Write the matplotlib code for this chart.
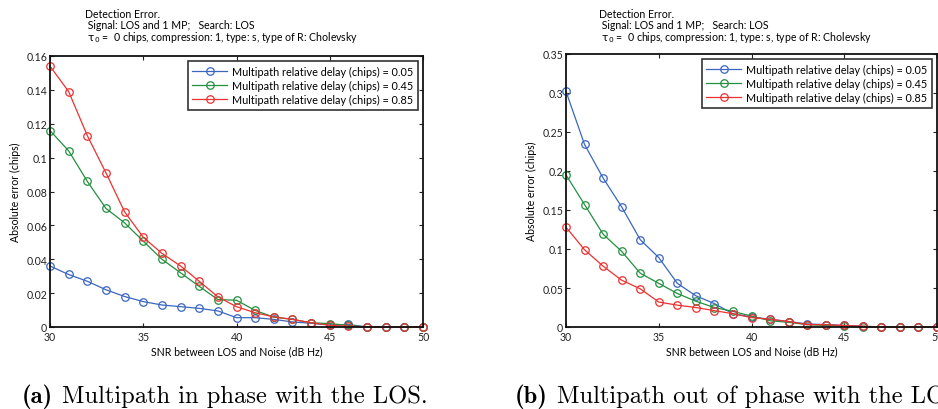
import matplotlib
matplotlib.use("Agg")
import matplotlib.pyplot as plt
from matplotlib.ticker import FixedLocator, FuncFormatter

snr = list(range(30, 51))

# Panel (a): multipath in phase with the LOS
a_005 = [0.036, 0.031, 0.027, 0.022, 0.018, 0.015, 0.013, 0.012, 0.011, 0.0095,
         0.0055, 0.0055, 0.0045, 0.003, 0.0022, 0.0012, 0.0015, 0, 0, 0, 0]
a_045 = [0.116, 0.104, 0.086, 0.070, 0.0615, 0.0507, 0.040, 0.032, 0.024, 0.0162,
         0.0158, 0.0098, 0.0058, 0.0045, 0.0025, 0.002, 0.001, 0, 0, 0, 0]
a_085 = [0.154, 0.139, 0.113, 0.091, 0.068, 0.053, 0.0435, 0.036, 0.027, 0.0178,
         0.012, 0.0084, 0.006, 0.0045, 0.0025, 0.001, 0.0005, 0, 0, 0, 0]

# Panel (b): multipath out of phase with the LOS
b_005 = [0.302, 0.234, 0.191, 0.154, 0.112, 0.089, 0.056, 0.040, 0.030, 0.017,
         0.013, 0.0098, 0.007, 0.004, 0.003, 0.002, 0.001, 0, 0, 0, 0]
b_045 = [0.195, 0.157, 0.119, 0.097, 0.069, 0.056, 0.043, 0.033, 0.025, 0.020,
         0.014, 0.008, 0.006, 0.003, 0.002, 0.001, 0, 0, 0, 0, 0]
b_085 = [0.128, 0.099, 0.078, 0.060, 0.049, 0.032, 0.028, 0.025, 0.021, 0.017,
         0.012, 0.010, 0.007, 0.003, 0.003, 0.002, 0.001, 0, 0, 0, 0]

delays = ["0.05", "0.45", "0.85"]
colors = ["#3a66c0", "#229040", "#ee3030"]

xticks = [30, 35, 40, 45, 50]
yticks_a = [0, 0.02, 0.04, 0.06, 0.08, 0.1, 0.12, 0.14, 0.16]
yticks_b = [0, 0.05, 0.1, 0.15, 0.2, 0.25, 0.3, 0.35]

title_lines = ["Detection Error.",
               " Signal: LOS and 1 MP;   Search: LOS",
               r" $\mathrm{\tau}_0$ =  0 chips, compression: 1, type: s, type of R: Cholevsky"]
xlabel = "SNR between LOS and Noise (dB Hz)"
ylabel = "Absolute error (chips)"
captions = [("(a)", "Multipath in phase with the LOS."),
            ("(b)", "Multipath out of phase with the LOS.")]

plt.rcParams['font.family'] = ['Lato', 'DejaVu Sans']
plt.rcParams['mathtext.fontset'] = 'dejavusans'

W, H = 938, 410
fig = plt.figure(figsize=(W / 100, H / 100), dpi=100)

def px(x0, y0, x1, y1):
    return [x0 / W, 1 - y1 / H, (x1 - x0) / W, (y1 - y0) / H]

ax_a = fig.add_axes(px(50, 57, 423, 328))
ax_b = fig.add_axes(px(566, 55, 937, 328))

fs = 7.6
for ax, series, yticks, ymax, tx in [
        (ax_a, [a_005, a_045, a_085], yticks_a, 0.16, 85),
        (ax_b, [b_005, b_045, b_085], yticks_b, 0.35, 599)]:
    for vals, d, c in zip(series, delays, colors):
        ax.plot(snr, vals, color=c, lw=0.9, marker='o', ms=5.4, mfc='none',
                mec=c, mew=0.9, clip_on=False,
                label=f"Multipath relative delay (chips) = {d}")
    ax.set_xlim(30, 50)
    ax.set_ylim(0, ymax)
    ax.xaxis.set_major_locator(FixedLocator(xticks))
    ax.yaxis.set_major_locator(FixedLocator(yticks))
    ax.yaxis.set_major_formatter(FuncFormatter(lambda v, p: f"{v:g}"))
    ax.xaxis.set_major_formatter(FuncFormatter(lambda v, p: f"{v:g}"))
    ax.tick_params(direction='in', top=True, right=True, length=3,
                   width=0.8, labelsize=fs, pad=2, colors='#222222')
    ax.tick_params(axis='x', pad=3)
    for s in ax.spines.values():
        s.set_linewidth(1.3)
        s.set_color('#111111')
    ax.set_xlabel(xlabel, fontsize=fs, labelpad=2)
    ax.set_ylabel(ylabel, fontsize=fs, labelpad=4)
    leg = ax.legend(loc='upper right', fontsize=7.8, frameon=True, fancybox=False,
                    edgecolor='black', borderpad=0.45, labelspacing=0.28,
                    handlelength=3.2, handletextpad=0.45,
                    borderaxespad=0.45)
    leg.get_frame().set_linewidth(1.2)
    for i, line in enumerate(title_lines):
        fig.text(tx / W, 1 - (17.5 + 11.6 * i) / H, line, fontsize=fs,
                 ha='left', va='baseline')

fig.canvas.draw()
renderer = fig.canvas.get_renderer()
for (lab, rest), cx in zip(captions, [22, 515]):
    t1 = fig.text(cx / W, 1 - 397 / H, lab, family='cmb10', fontsize=17.7,
                  ha='left', va='center')
    bb = t1.get_window_extent(renderer)
    fig.text((bb.x1 + 9) / W, 1 - 397 / H, rest, family='cmr10',
             fontsize=17.7, ha='left', va='center')

fig.savefig("out.png", dpi=100)
